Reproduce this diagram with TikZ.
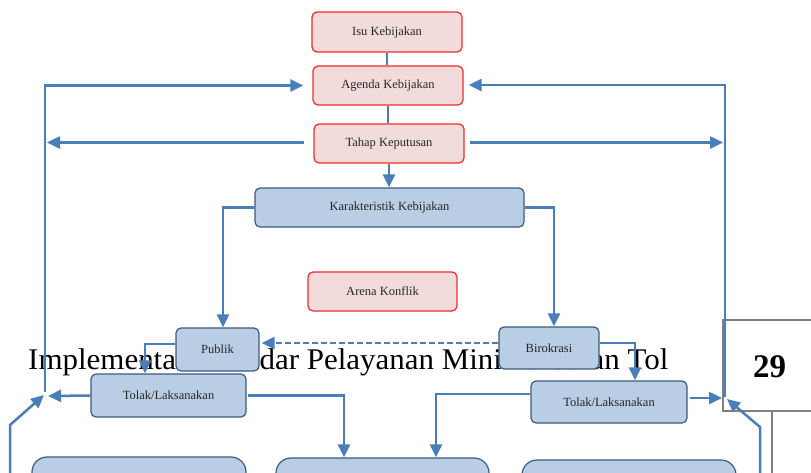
\documentclass[tikz,border=0pt]{standalone}
\usepackage{fontspec}
\setmainfont{Liberation Serif}
\usetikzlibrary{arrows.meta}
\definecolor{pinkfill}{HTML}{F2DCDB}
\definecolor{redline}{HTML}{F02A2A}
\definecolor{bluefill}{HTML}{B9CDE5}
\definecolor{blueline}{HTML}{3B5A80}
\definecolor{arrowblue}{HTML}{4A7EBB}
\definecolor{pagegray}{HTML}{808080}
\tikzset{
  pinkbox/.style={draw=redline, fill=pinkfill, line width=1.2pt, rounded corners=5pt, inner sep=0pt, font=\fontsize{12.5}{14}\selectfont, text=black!85},
  bluebox/.style={draw=blueline, fill=bluefill, line width=1.2pt, rounded corners=5pt, inner sep=0pt, font=\fontsize{12.5}{14}\selectfont, text=black!85},
  bigbox/.style={draw=blueline, fill=bluefill, line width=1.2pt, rounded corners=15pt, inner sep=0pt},
  conn/.style={draw=arrowblue, line width=2.5pt},
  arr/.style={conn, -{Triangle[length=13pt,width=12pt]}},
}
\begin{document}
\begin{tikzpicture}[x=1pt,y=-1pt]
\useasboundingbox (0,0) rectangle (811,472);
\clip (0,0) rectangle (811,472);
% background header text
\node[anchor=base west, inner sep=0pt, xscale=1.032, font=\fontsize{30}{32}\selectfont] (hdr) at (28,369) {Implementasi Standar Pelayanan Minimal Jalan Tol};
% page number box
\draw[pagegray, line width=2pt, fill=white] (723,320) rectangle (840,411);
\node[font=\fontsize{33}{35}\selectfont\bfseries, inner sep=0pt] (pnum) at (769.5,367) {29};
\draw[pagegray, line width=2pt] (772,411) -- (772,480);
% nodes
\node[pinkbox, minimum width=150pt, minimum height=40pt] (isu) at (387,32) {Isu Kebijakan};
\node[pinkbox, minimum width=150pt, minimum height=39pt] (agenda) at (388,85.5) {Agenda Kebijakan};
\node[pinkbox, minimum width=150pt, minimum height=39pt] (tahap) at (389,143.5) {Tahap Keputusan};
\node[bluebox, minimum width=269pt, minimum height=39pt] (karak) at (389.5,207.5) {Karakteristik Kebijakan};
\node[pinkbox, minimum width=149pt, minimum height=39pt] (arena) at (382.5,291.5) {Arena Konflik};
\node[bluebox, minimum width=83pt, minimum height=43pt] (publik) at (217.5,349.5) {Publik};
\node[bluebox, minimum width=100pt, minimum height=42pt] (biro) at (549,348) {Birokrasi};
\node[bluebox, minimum width=155pt, minimum height=43pt] (tolakL) at (168.5,395.5) {Tolak/Laksanakan};
\node[bluebox, minimum width=156pt, minimum height=42pt] (tolakR) at (609,402) {Tolak/Laksanakan};
\node[bigbox, minimum width=214pt, minimum height=60pt] (botL) at (139,487) {};
\node[bigbox, minimum width=213pt, minimum height=60pt] (botM) at (382.5,488) {};
\node[bigbox, minimum width=214pt, minimum height=60pt] (botR) at (629,490) {};
% free-end coordinates
\coordinate (lvtop) at (45,392);
\coordinate (lhit) at (48,396);
\coordinate (ltahap) at (47,142.5);
\coordinate (rtahap) at (723,142.5);
\coordinate (rvbot) at (725,397);
\coordinate (rhit) at (722,398);
\coordinate (blA) at (10,480);
\coordinate (blB) at (10,425);
\coordinate (blC) at (44,395);
\coordinate (brA) at (760,480);
\coordinate (brB) at (760,427);
\coordinate (brC) at (727,399);
% connectors
\draw[conn] (isu.south) -- (isu.south |- agenda.north);
\draw[conn] (agenda.south) -- (agenda.south |- tahap.north);
\draw[arr] (tahap.south) -- (tahap.south |- karak.north);
\draw[arr] (lvtop) |- ([xshift=-9pt]agenda.west);
\draw[arr] ([xshift=-9pt]tahap.west |- ltahap) -- (ltahap);
\draw[arr] ([xshift=5pt]tahap.east |- rtahap) -- (rtahap);
\draw[arr] (rvbot) |- ([xshift=5pt,yshift=0.5pt]agenda.east);
\draw[arr] (tolakL.west) -- (lhit);
\draw[arr] ([xshift=2pt,yshift=4pt]tolakR.east) -- (rhit);
\draw[arr] (blA) -- (blB) -- (blC);
\draw[arr] (brA) -- (brB) -- (brC);
\draw[arr] (karak.west) -| ([xshift=5.5pt]publik.north);
\draw[arr] (karak.east) -| ([xshift=5pt]biro.north);
\draw[arr, dash pattern=on 6pt off 3pt] ([yshift=5pt]biro.west) -- ([xshift=2pt,yshift=6.5pt]publik.east);
\draw[arr] ([yshift=5.5pt]publik.west) -| ([xshift=-23.5pt]tolakL.north);
\draw[arr] ([yshift=5pt]biro.east) -| ([xshift=26pt]tolakR.north);
\draw[arr] ([xshift=1pt]tolakL.east) -| ([xshift=-38.5pt]botM.north);
\draw[arr] ([yshift=8pt]tolakR.west) -| ([xshift=53.5pt]botM.north);
\end{tikzpicture}
\end{document}
